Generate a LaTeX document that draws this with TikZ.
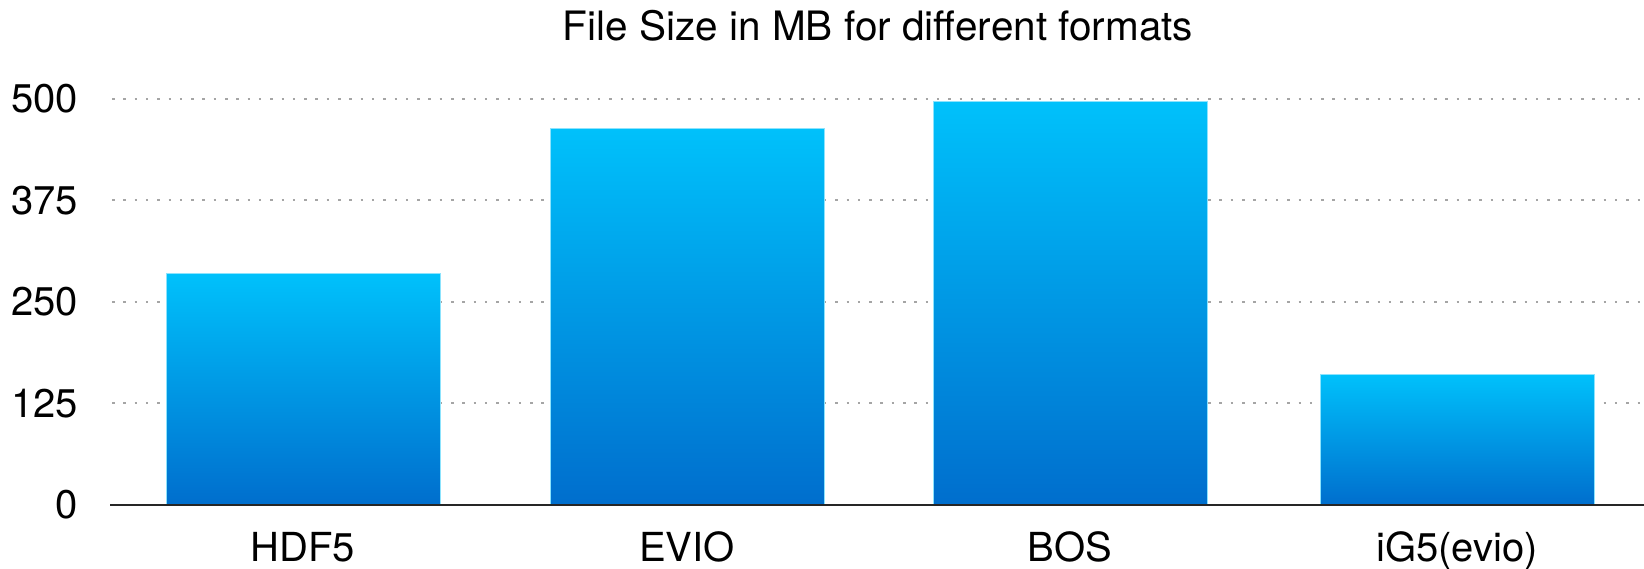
\documentclass[tikz,border=0pt]{standalone}
\usepackage{fontspec}
\setmainfont{TeX Gyre Heros}
\definecolor{bartop}{RGB}{0,193,251}
\definecolor{barbottom}{RGB}{0,110,205}
\definecolor{gridgray}{RGB}{165,165,165}

\begin{document}
\begin{tikzpicture}[x=1pt, y=1pt,
	grid/.style={gridgray, line width=2pt, dash pattern=on 2.5pt off 8.8pt},
	bar/.style={top color=bartop, bottom color=barbottom, draw=bartop!45, line width=1pt},
	ticklabel/.style={anchor=east, inner sep=0pt, font=\fontsize{40}{40}\selectfont},
	catlabel/.style={anchor=base, inner sep=0pt, font=\fontsize{40}{40}\selectfont}]
				\useasboundingbox (0,0) rectangle (1644,569);
				
				\path (878,528) node[anchor=base, inner sep=0pt, font=\fontsize{40.5}{40.5}\selectfont] (title) {File Size in MB for different formats};
				
				\foreach \v in {125,250,375,500}
					\draw[grid] (112,{64+\v*0.812}) -- (1644,{64+\v*0.812});
				\foreach \v in {0,125,250,375,500}
					\node[ticklabel] (t\v) at (78,{64+\v*0.812}) {\v};
				
				\foreach \x/\h/\name/\lab in {166/285/hdf/HDF5, 550/464/evio/EVIO, 933/497/bos/BOS, 1320/161/igf/iG5(evio)} {
					\path[bar] (\x,64) rectangle ++(274,{\h*0.812});
					\node[catlabel] (\name) at (\x+137,7) {\lab};
				}
				
				\draw[line width=2pt, black!85] (110,64) -- (1644,64);
			\end{tikzpicture}
\end{document}
